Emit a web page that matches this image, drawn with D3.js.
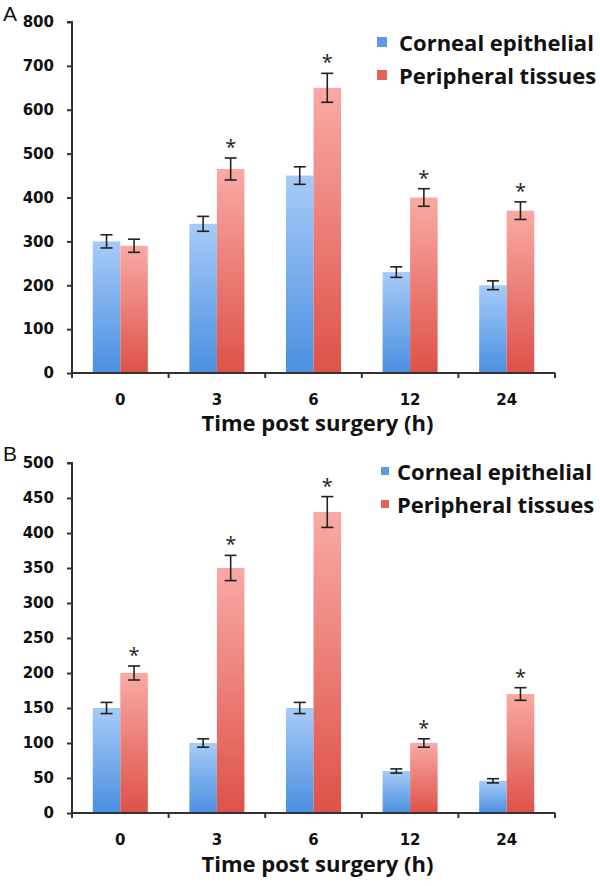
<!DOCTYPE html>
<html>
<head>
<meta charset="utf-8">
<script src="https://cdn.jsdelivr.net/npm/d3@7"></script>
<style>
  html, body { margin: 0; padding: 0; background: #fff; }
  svg { display: block; }
</style>
</head>
<body>
<svg id="chart" width="600" height="886"></svg>
<script>
// ---- data ----
const categories = ["0", "3", "6", "12", "24"];
const seriesNames = ["Corneal epithelial", "Peripheral tissues"];

const aCorneal = [300, 340, 450, 230, 200];
const aCornealErr = [15, 17, 20, 12, 10];
const aPeripheral = [290, 465, 650, 400, 370];
const aPeripheralErr = [15, 25, 33, 20, 20];
const aStars = [false, true, true, true, true];
const aTicks = [0, 100, 200, 300, 400, 500, 600, 700, 800];

const bCorneal = [150, 100, 150, 60, 46];
const bCornealErr = [8, 6, 8, 3, 3];
const bPeripheral = [200, 350, 430, 100, 170];
const bPeripheralErr = [10, 18, 22, 6, 9];
const bStars = [true, true, true, true, true];
const bTicks = [0, 50, 100, 150, 200, 250, 300, 350, 400, 450, 500];

const xTitle = "Time post surgery (h)";

// ---- drawing ----
const svg = d3.select("#chart");
const defs = svg.append("defs");
function grad(id, top, bottom) {
  const g = defs.append("linearGradient").attr("id", id)
    .attr("x1", 0).attr("y1", 0).attr("x2", 0).attr("y2", 1);
  g.append("stop").attr("offset", "0%").attr("stop-color", top);
  g.append("stop").attr("offset", "100%").attr("stop-color", bottom);
}
grad("gBlue", "#a7cbf8", "#4a8fe0");
grad("gRed", "#f9aaa5", "#de5148");
const fills = ["url(#gBlue)", "url(#gRed)"];
const legendFills = ["#5b9be6", "#e5625b"];
const tickFont = "'DejaVu Sans', Verdana, sans-serif";
const mainFont = "'Open Sans', 'DejaVu Sans', sans-serif";

function panel(opt) {
  const left = 72, right = 555;
  const y = d3.scaleLinear().domain([0, opt.max]).range([opt.y0, opt.yTop]);
  const x = d3.scaleBand().domain(categories).range([left, right]).paddingInner(0).paddingOuter(0);
  const gw = x.bandwidth() * 0.57;
  const sub = d3.scaleBand().domain([0, 1]).range([(x.bandwidth() - gw) / 2, (x.bandwidth() + gw) / 2]);

  const g = svg.append("g");
  const series = [opt.s1, opt.s2];
  const errs = [opt.e1, opt.e2];

  series.forEach((vals, si) => {
    g.selectAll(null).data(vals).enter().append("rect")
      .attr("x", (d, i) => x(categories[i]) + sub(si))
      .attr("width", sub.bandwidth())
      .attr("y", d => y(d))
      .attr("height", d => y(0) - y(d))
      .attr("fill", fills[si]);
  });

  // error bars
  series.forEach((vals, si) => {
    vals.forEach((v, i) => {
      const cx = x(categories[i]) + sub(si) + sub.bandwidth() / 2;
      const e = errs[si][i];
      const eg = g.append("g").attr("stroke", "#222").attr("stroke-width", 1.6);
      eg.append("line").attr("x1", cx).attr("x2", cx).attr("y1", y(v + e)).attr("y2", y(v - e));
      eg.append("line").attr("x1", cx - 6).attr("x2", cx + 6).attr("y1", y(v + e)).attr("y2", y(v + e));
      eg.append("line").attr("x1", cx - 6).attr("x2", cx + 6).attr("y1", y(v - e)).attr("y2", y(v - e));
      if (si === 1 && opt.stars[i]) {
        g.append("text").attr("x", cx).attr("y", y(v + e) - 4)
          .attr("text-anchor", "middle").style("font-size", "20px").style("font-family", mainFont)
          .attr("fill", "#222").text("*");
      }
    });
  });

  // y axis
  const ya = g.append("g").attr("transform", `translate(${left},0)`)
    .call(d3.axisLeft(y).tickValues(opt.ticks).tickSize(5).tickPadding(13).tickFormat(d3.format("d")));
  ya.select(".domain").attr("stroke", "#333").attr("stroke-width", 2).attr("d", `M-5,${y(opt.max)}H0V${y(0)}`);
  ya.selectAll(".tick line").attr("stroke", "#333").attr("stroke-width", 2);
  ya.selectAll(".tick text").style("font-size", "15px").style("font-weight", "bold")
    .style("font-family", tickFont).attr("fill", "#111");

  // x axis
  const xa = g.append("g").attr("transform", `translate(0,${y(0)})`)
    .call(d3.axisBottom(x).tickSize(0).tickPadding(21));
  xa.select(".domain").attr("stroke", "#333").attr("stroke-width", 2).attr("d", `M${left},0H${right}`);
  xa.selectAll(".tick text").style("font-size", "15px").style("font-weight", "bold")
    .style("font-family", tickFont).attr("fill", "#111");
  const bounds = categories.map(c => x(c)).concat([right]);
  xa.selectAll(null).data(bounds).enter().append("line")
    .attr("x1", d => d).attr("x2", d => d).attr("y1", 0).attr("y2", 5)
    .attr("stroke", "#333").attr("stroke-width", 2);

  // x title
  g.append("text").attr("x", (left + right) / 2 + 4).attr("y", opt.titleY)
    .attr("text-anchor", "middle").style("font-size", "22px").style("font-weight", "bold")
    .style("font-family", mainFont).attr("fill", "#111").text(xTitle);

  // panel letter
  g.append("text").attr("x", 3).attr("y", opt.letterY).style("font-size", "21px")
    .style("font-family", "Arial, 'Liberation Sans', sans-serif").attr("fill", "#111").text(opt.letter);

  // legend
  seriesNames.forEach((nm, i) => {
    const ly = opt.legendY + i * opt.legendGap;
    g.append("rect").attr("x", opt.sqX).attr("y", ly - opt.sq / 2).attr("width", opt.sq).attr("height", opt.sq)
      .attr("fill", legendFills[i]);
    g.append("text").attr("x", opt.textX).attr("y", ly + 9)
      .style("font-size", "22px").style("font-weight", "bold").style("font-family", mainFont)
      .attr("fill", "#111").text(nm);
  });
}

panel({ s1: aCorneal, e1: aCornealErr, s2: aPeripheral, e2: aPeripheralErr, stars: aStars,
  ticks: aTicks, max: 800, y0: 373, yTop: 22, titleY: 431, letter: "A", letterY: 21,
  sqX: 377, sq: 10, textX: 399, legendY: 42, legendGap: 33 });
panel({ s1: bCorneal, e1: bCornealErr, s2: bPeripheral, e2: bPeripheralErr, stars: bStars,
  ticks: bTicks, max: 500, y0: 813, yTop: 463, titleY: 872, letter: "B", letterY: 461,
  sqX: 381, sq: 8, textX: 397, legendY: 471, legendGap: 33 });
</script>
</body>
</html>
